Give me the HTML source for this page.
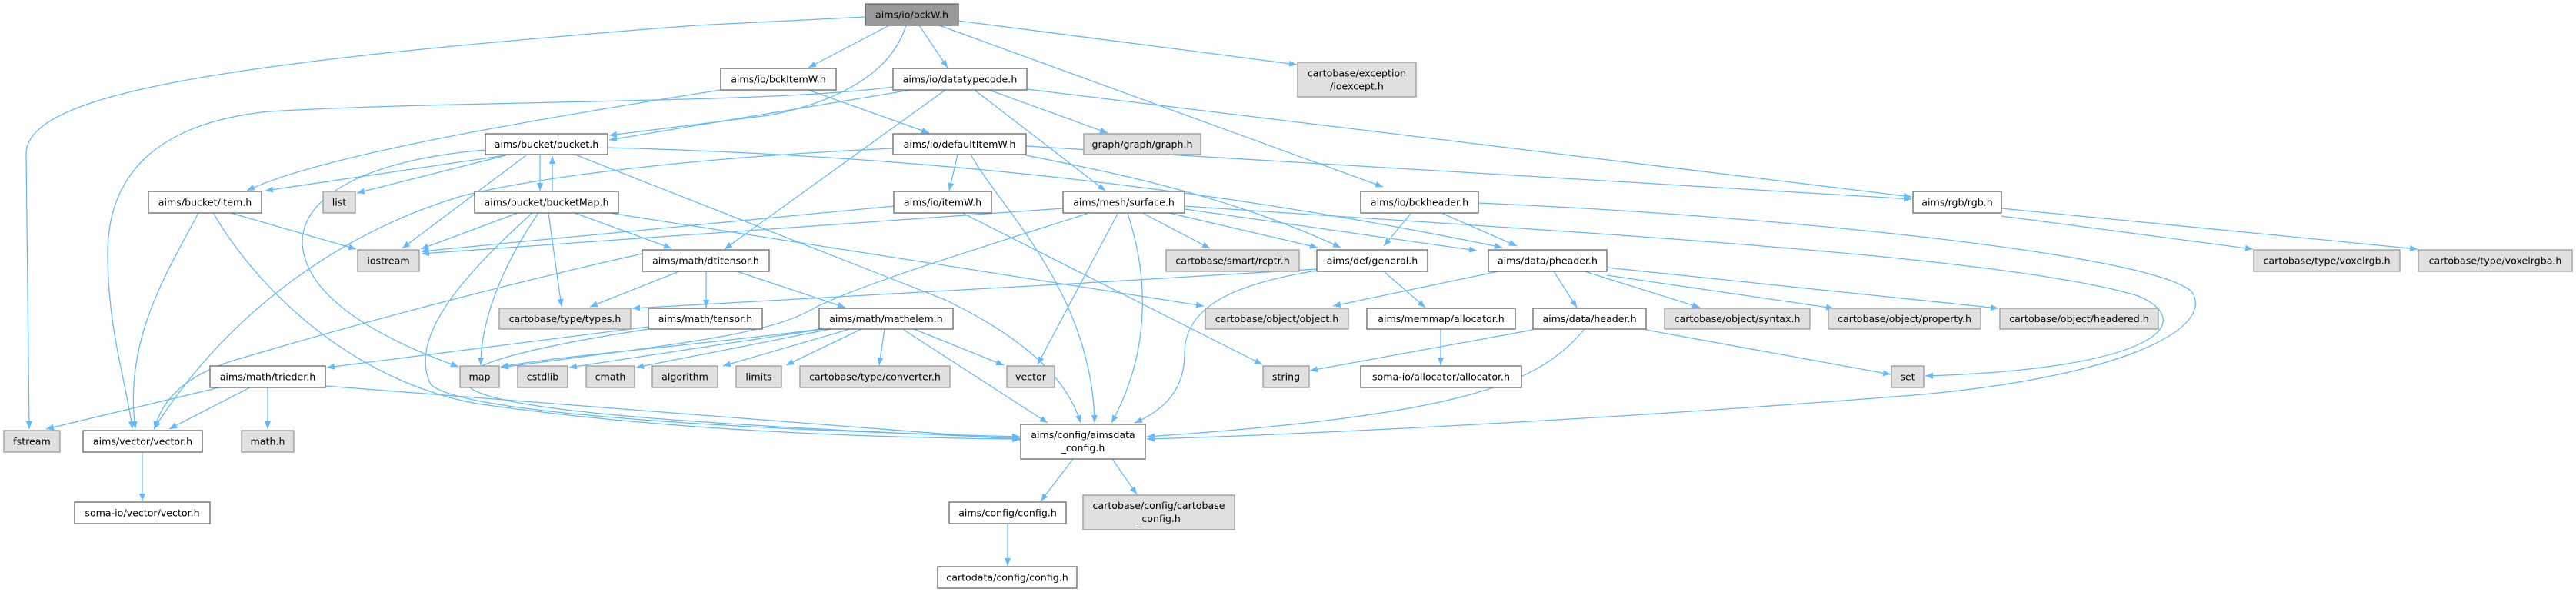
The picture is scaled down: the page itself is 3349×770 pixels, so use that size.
<!DOCTYPE html>
<html><head><meta charset="utf-8"><style>
html,body{margin:0;padding:0;background:#fff;}
svg{display:block;}
text{font-family:"DejaVu Sans","Liberation Sans",sans-serif;font-size:12.6px;fill:#000;text-anchor:middle;}
.n rect{fill:#fff;stroke:#666;stroke-width:1.3;}
.g rect{fill:#e0e0e0;stroke:#999;stroke-width:1.3;}
.e path{fill:none;stroke:#63b8ff;stroke-width:1.25;marker-end:url(#a);}
</style></head><body>
<svg width="3349" height="770" viewBox="0 0 3349 770" xmlns="http://www.w3.org/2000/svg">
<defs><marker id="a" markerUnits="userSpaceOnUse" markerWidth="11" markerHeight="8" refX="10" refY="4" orient="auto"><path d="M0,0 L10,4 L0,8 z" fill="#63b8ff"/></marker></defs>
<g class="e">
<path d="M1125,22 L905,33 C300,80 34,120 34,200 L38,558"/>
<path d="M1156,33 L1051,88"/>
<path d="M1178,33 C1160,90 1100,130 1000,150 L792,176"/>
<path d="M1195,33 L1232,88"/>
<path d="M1221,33 L1798,243"/>
<path d="M1246,27 L1686,84"/>
<path d="M937,117 C600,170 400,210 321,248"/>
<path d="M1051,117 L1208,173"/>
<path d="M1161,113 C1000,135 600,130 350,145 C200,160 140,230 140,330 C140,430 165,500 172,558"/>
<path d="M1184,117 L792,182"/>
<path d="M1229,117 L942,324"/>
<path d="M1267,117 L1437,248"/>
<path d="M1286,117 L1440,173"/>
<path d="M1335,116 L2485,256"/>
<path d="M1161,193 C900,205 700,230 600,255 C450,300 300,400 200,558"/>
<path d="M1245,201 L1234,248"/>
<path d="M1262,201 C1300,270 1420,380 1423,550"/>
<path d="M1334,190 L2485,259"/>
<path d="M1334,202 C1450,225 1600,255 1743,322"/>
<path d="M631,195 C450,210 380,270 395,330 C410,400 520,450 596,477"/>
<path d="M657,202 L345,248"/>
<path d="M658,202 L464,251"/>
<path d="M684,202 L523,323"/>
<path d="M702,202 L702,248"/>
<path d="M718,249 L718,203"/>
<path d="M750,202 L1229,390 C1290,420 1380,470 1405,550"/>
<path d="M790,192 C1100,200 1500,228 1953,322"/>
<path d="M300,277 L463,324"/>
<path d="M258,277 C220,350 160,440 176,558"/>
<path d="M277,277 C350,400 480,500 620,525 C900,565 1200,570 1326,571"/>
<path d="M673,277 L547,324"/>
<path d="M692,277 C600,360 530,440 560,500 C600,540 1000,560 1326,568"/>
<path d="M700,277 C650,350 625,420 625,475"/>
<path d="M713,277 L730,399"/>
<path d="M747,277 L873,323"/>
<path d="M793,277 L1565,398"/>
<path d="M1162,268 L547,327"/>
<path d="M1251,277 L1641,474"/>
<path d="M1382,271 L548,330"/>
<path d="M1413,278 C1250,330 1120,370 1060,400 C1000,435 900,445 651,478"/>
<path d="M1453,278 L1349,474"/>
<path d="M1466,278 C1490,350 1500,450 1445,550"/>
<path d="M1487,278 L1573,323"/>
<path d="M1520,277 L1713,322"/>
<path d="M1540,272 L1920,326"/>
<path d="M1540,268 C2000,300 2600,330 2780,385 C2860,420 2800,480 2503,489"/>
<path d="M1834,278 L1799,320"/>
<path d="M1876,278 L1972,320"/>
<path d="M1922,264 C2300,280 2800,330 2850,380 C2880,430 2750,490 2500,513 C2100,545 1700,565 1491,571"/>
<path d="M2059,429 C2000,500 1900,540 1491,568"/>
<path d="M1993,429 L1703,482"/>
<path d="M2140,429 L2458,487"/>
<path d="M1799,353 L1853,400"/>
<path d="M1712,350 C1400,370 1000,390 822,401"/>
<path d="M1712,352 C1600,370 1540,400 1540,460 C1540,510 1510,535 1475,550"/>
<path d="M1948,353 L1733,398"/>
<path d="M2020,353 L2050,400"/>
<path d="M2060,353 L2210,400"/>
<path d="M2089,358 L2384,401"/>
<path d="M2089,348 L2598,401"/>
<path d="M2602,281 L2929,324"/>
<path d="M2602,271 L3143,324"/>
<path d="M1873,428 L1873,475"/>
<path d="M918,353 L918,400"/>
<path d="M958,353 L1099,400"/>
<path d="M883,353 L767,399"/>
<path d="M835,330 C700,360 500,410 300,470 C240,490 210,520 201,558"/>
<path d="M843,425 L425,478"/>
<path d="M843,428 C700,450 620,470 605,490 C595,520 700,545 1326,570"/>
<path d="M1067,428 C900,450 750,460 651,477"/>
<path d="M1070,428 L740,478"/>
<path d="M1080,428 L827,478"/>
<path d="M1105,428 L940,476"/>
<path d="M1120,428 L1022,475"/>
<path d="M1150,428 L1143,475"/>
<path d="M1188,428 L1305,475"/>
<path d="M1175,429 L1362,550"/>
<path d="M285,504 L60,558"/>
<path d="M325,504 L220,558"/>
<path d="M348,504 L348,558"/>
<path d="M423,502 L1326,572"/>
<path d="M185,588 L185,652"/>
<path d="M1395,597 L1353,652"/>
<path d="M1446,597 L1478,643"/>
<path d="M1310,681 L1310,736"/>
</g>
<g>
<g><rect x="1125" y="5" width="121" height="28" fill="#999" stroke="#666" stroke-width="1.3"/><text x="1185.5" y="23.5">aims/io/bckW.h</text></g>
<g class="n"><rect x="937" y="89" width="150" height="28"/><text x="1012" y="107.5">aims/io/bckItemW.h</text></g>
<g class="n"><rect x="1161" y="89" width="174" height="28"/><text x="1248" y="107.5">aims/io/datatypecode.h</text></g>
<g class="g"><rect x="1687" y="81" width="154" height="45"/><text x="1764" y="99.5">cartobase/exception</text><text x="1764" y="116.5">/ioexcept.h</text></g>
<g class="n"><rect x="631" y="174" width="159" height="27"/><text x="710.5" y="192">aims/bucket/bucket.h</text></g>
<g class="n"><rect x="1161" y="174" width="173" height="27"/><text x="1247.5" y="192">aims/io/defaultItemW.h</text></g>
<g class="g"><rect x="1409" y="174" width="152" height="27"/><text x="1485" y="192">graph/graph/graph.h</text></g>
<g class="n"><rect x="193" y="249" width="147" height="28"/><text x="266.5" y="267.5">aims/bucket/item.h</text></g>
<g class="g"><rect x="420" y="249" width="42" height="28"/><text x="441" y="267.5">list</text></g>
<g class="n"><rect x="617" y="249" width="187" height="28"/><text x="710.5" y="267.5">aims/bucket/bucketMap.h</text></g>
<g class="n"><rect x="1162" y="249" width="127" height="28"/><text x="1225.5" y="267.5">aims/io/itemW.h</text></g>
<g class="n"><rect x="1382" y="249" width="158" height="28"/><text x="1461" y="267.5">aims/mesh/surface.h</text></g>
<g class="n"><rect x="1769" y="249" width="153" height="28"/><text x="1845.5" y="267.5">aims/io/bckheader.h</text></g>
<g class="n"><rect x="2487" y="249" width="115" height="28"/><text x="2544.5" y="267.5">aims/rgb/rgb.h</text></g>
<g class="g"><rect x="465" y="325" width="80" height="28"/><text x="505" y="343.5">iostream</text></g>
<g class="n"><rect x="835" y="325" width="165" height="28"/><text x="917.5" y="343.5">aims/math/dtitensor.h</text></g>
<g class="g"><rect x="1516" y="325" width="173" height="28"/><text x="1602.5" y="343.5">cartobase/smart/rcptr.h</text></g>
<g class="n"><rect x="1712" y="325" width="144" height="28"/><text x="1784" y="343.5">aims/def/general.h</text></g>
<g class="n"><rect x="1935" y="325" width="154" height="28"/><text x="2012" y="343.5">aims/data/pheader.h</text></g>
<g class="g"><rect x="2930" y="325" width="190" height="28"/><text x="3025" y="343.5">cartobase/type/voxelrgb.h</text></g>
<g class="g"><rect x="3144" y="325" width="200" height="28"/><text x="3244" y="343.5">cartobase/type/voxelrgba.h</text></g>
<g class="g"><rect x="649" y="401" width="171" height="27"/><text x="734.5" y="419">cartobase/type/types.h</text></g>
<g class="n"><rect x="843" y="401" width="148" height="27"/><text x="917" y="419">aims/math/tensor.h</text></g>
<g class="n"><rect x="1065" y="401" width="174" height="27"/><text x="1152" y="419">aims/math/mathelem.h</text></g>
<g class="g"><rect x="1567" y="401" width="186" height="27"/><text x="1660" y="419">cartobase/object/object.h</text></g>
<g class="n"><rect x="1777" y="401" width="193" height="27"/><text x="1873.5" y="419">aims/memmap/allocator.h</text></g>
<g class="n"><rect x="1993" y="401" width="147" height="27"/><text x="2066.5" y="419">aims/data/header.h</text></g>
<g class="g"><rect x="2164" y="401" width="189" height="27"/><text x="2258.5" y="419">cartobase/object/syntax.h</text></g>
<g class="g"><rect x="2377" y="401" width="198" height="27"/><text x="2476" y="419">cartobase/object/property.h</text></g>
<g class="g"><rect x="2600" y="401" width="206" height="27"/><text x="2703" y="419">cartobase/object/headered.h</text></g>
<g class="n"><rect x="273" y="476" width="150" height="28"/><text x="348" y="494.5">aims/math/trieder.h</text></g>
<g class="g"><rect x="598" y="476" width="51" height="28"/><text x="623.5" y="494.5">map</text></g>
<g class="g"><rect x="673" y="476" width="65" height="28"/><text x="705.5" y="494.5">cstdlib</text></g>
<g class="g"><rect x="762" y="476" width="63" height="28"/><text x="793.5" y="494.5">cmath</text></g>
<g class="g"><rect x="848" y="476" width="85" height="28"/><text x="890.5" y="494.5">algorithm</text></g>
<g class="g"><rect x="957" y="476" width="59" height="28"/><text x="986.5" y="494.5">limits</text></g>
<g class="g"><rect x="1040" y="476" width="195" height="28"/><text x="1137.5" y="494.5">cartobase/type/converter.h</text></g>
<g class="g"><rect x="1309" y="476" width="62" height="28"/><text x="1340" y="494.5">vector</text></g>
<g class="g"><rect x="1642" y="476" width="60" height="28"/><text x="1672" y="494.5">string</text></g>
<g class="n"><rect x="1769" y="476" width="209" height="28"/><text x="1873.5" y="494.5">soma-io/allocator/allocator.h</text></g>
<g class="g"><rect x="2459" y="476" width="42" height="28"/><text x="2480" y="494.5">set</text></g>
<g class="n"><rect x="1327" y="552" width="162" height="45"/><text x="1408" y="570">aims/config/aimsdata</text><text x="1408" y="587">_config.h</text></g>
<g class="g"><rect x="5" y="560" width="73" height="28"/><text x="41.5" y="578.5">fstream</text></g>
<g class="n"><rect x="108" y="560" width="155" height="28"/><text x="185.5" y="578.5">aims/vector/vector.h</text></g>
<g class="g"><rect x="314" y="560" width="68" height="28"/><text x="348" y="578.5">math.h</text></g>
<g class="n"><rect x="1234" y="653" width="152" height="28"/><text x="1310" y="671.5">aims/config/config.h</text></g>
<g class="g"><rect x="1408" y="644" width="197" height="45"/><text x="1506.5" y="662">cartobase/config/cartobase</text><text x="1506.5" y="679">_config.h</text></g>
<g class="n"><rect x="97" y="653" width="176" height="28"/><text x="185" y="671.5">soma-io/vector/vector.h</text></g>
<g class="n"><rect x="1219" y="737" width="181" height="28"/><text x="1309.5" y="755.5">cartodata/config/config.h</text></g>
</g>
</svg>
</body></html>
